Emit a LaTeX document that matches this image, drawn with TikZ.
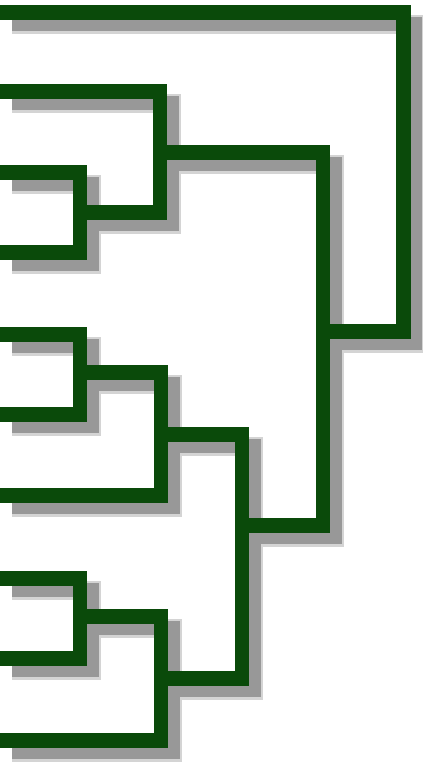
\documentclass[tikz,border=0pt]{standalone}
\usepackage{tikz}
\usepackage{xcolor}

\definecolor{treegreen}{HTML}{0A4A0A}
\definecolor{shadegray}{HTML}{989898}
\definecolor{halogray}{HTML}{D4D4D4}

\tikzset{
  branch/.style={draw=treegreen, line width=0.3cm, line join=miter},
  shade/.style={draw=shadegray, line width=0.28cm, line join=miter,
    transform canvas={shift={(0.24cm,-0.24cm)}}},
  halo/.style={draw=halogray, line width=0.38cm, line join=miter,
    transform canvas={shift={(0.24cm,-0.24cm)}}}
}

% all links of the tree, drawn with the style given
\newcommand{\treelinks}[1]{
  \draw[#1] (l1) -| (root) -- (jA);
  \draw[#1] (j2) -| (jA |- jB) -- (jB);
  \draw[#1] (l2) -| (j2 |- j34) -- (j34);
  \draw[#1] (l3) -| (j34 |- l4) -- (l4);
  \draw[#1] (j7) -| (jB |- j10) -- (j10);
  \draw[#1] (j56) -| (j7 |- l7) -- (l7);
  \draw[#1] (l5) -| (j56 |- l6) -- (l6);
  \draw[#1] (j89) -| (j10 |- l10) -- (l10);
  \draw[#1] (l8) -| (j89 |- l9) -- (l9);
}

\begin{document}
\begin{tikzpicture}[x=0.02cm, y=-0.02cm]
        \useasboundingbox (0,0) rectangle (423,772);
        % leaves
        \coordinate (l1) at (0,12);
        \coordinate (l2) at (0,91);
        \coordinate (l3) at (0,172);
        \coordinate (l4) at (0,252);
        \coordinate (l5) at (0,334);
        \coordinate (l6) at (0,414);
        \coordinate (l7) at (0,495);
        \coordinate (l8) at (0,578);
        \coordinate (l9) at (0,658);
        \coordinate (l10) at (0,740);
        % joins
        \coordinate (j34) at (80,212);
        \coordinate (j2) at (160,152);
        \coordinate (j56) at (80,372);
        \coordinate (j7) at (161,434);
        \coordinate (j89) at (80,616);
        \coordinate (j10) at (161,678);
        \coordinate (jB) at (242,525);
        \coordinate (jA) at (323,331);
        \coordinate (root) at (403,331);
        % shadows first, then the branches
        \treelinks{halo}
        \treelinks{shade}
        \treelinks{branch}
    \end{tikzpicture}
\end{document}
